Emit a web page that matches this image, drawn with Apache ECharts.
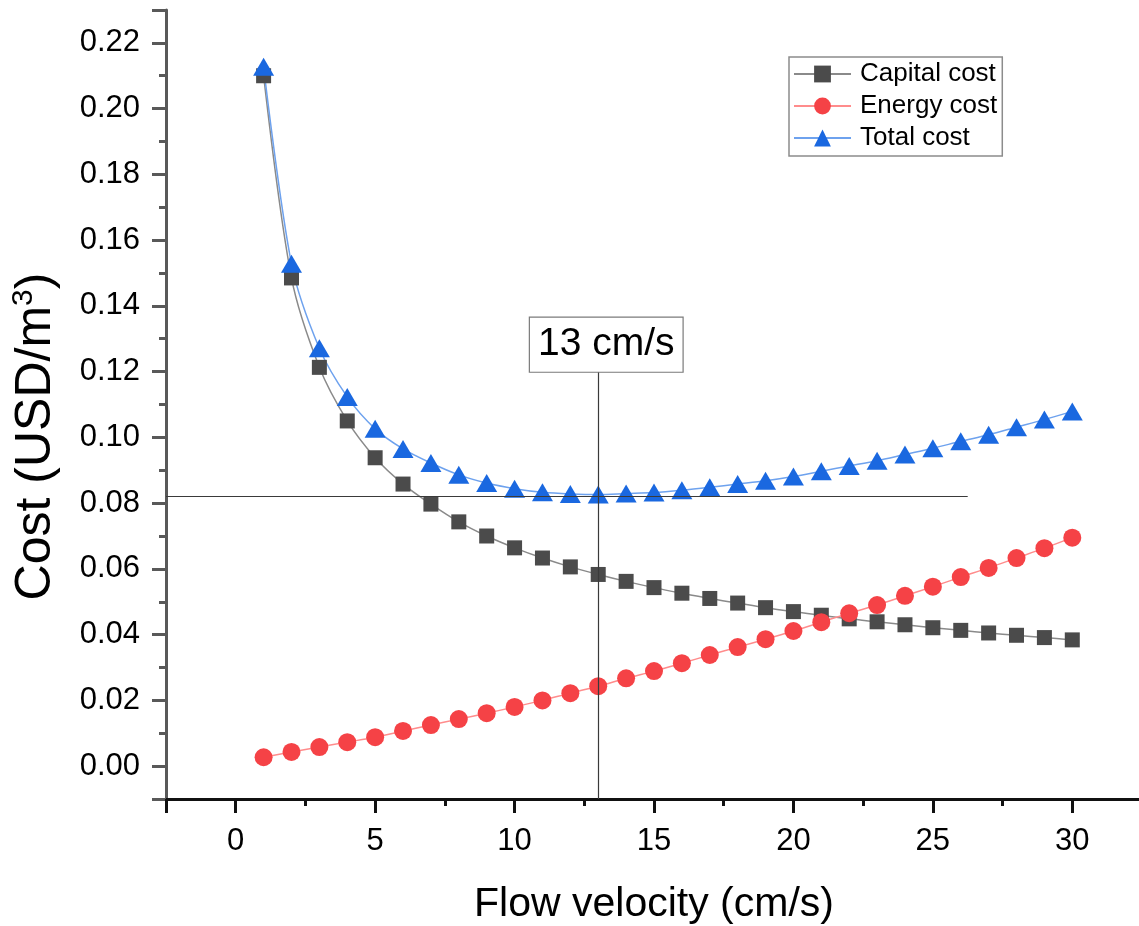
<!DOCTYPE html>
<html>
<head>
<meta charset="utf-8">
<script src="https://cdn.jsdelivr.net/npm/echarts@6/dist/echarts.min.js"></script>
<style>
  html, body { margin: 0; padding: 0; background: #fff; }
  #chart { width: 1139px; height: 926px; }
</style>
</head>
<body>
<div id="chart"></div>
<script>
    // flow velocity (cm/s)
    let velocity = [1, 2, 3, 4, 5, 6, 7, 8, 9, 10, 11, 12, 13, 14, 15,
        16, 17, 18, 19, 20, 21, 22, 23, 24, 25, 26, 27, 28, 29, 30];
    let capitalCost = [0.2100, 0.1485, 0.1213, 0.1050, 0.0938, 0.0858, 0.0797, 0.0743, 0.0700, 0.0664,
        0.0633, 0.0606, 0.0583, 0.0562, 0.0543, 0.0526, 0.0510, 0.0496, 0.0482, 0.0470,
        0.0459, 0.0448, 0.0439, 0.0430, 0.0421, 0.0413, 0.0405, 0.0398, 0.0391, 0.0384];
    let energyCost = [0.0027, 0.0043, 0.0058, 0.0073, 0.0088, 0.0107, 0.0125, 0.0143, 0.0161, 0.0180,
        0.0200, 0.0222, 0.0243, 0.0267, 0.0289, 0.0313, 0.0338, 0.0362, 0.0386, 0.0411,
        0.0438, 0.0465, 0.0490, 0.0518, 0.0546, 0.0575, 0.0603, 0.0633, 0.0663, 0.0695];
    let totalCost = [0.2127, 0.1528, 0.1271, 0.1123, 0.1026, 0.0965, 0.0922, 0.0886, 0.0861, 0.0844,
        0.0833, 0.0828, 0.0826, 0.0829, 0.0832, 0.0839, 0.0848, 0.0858, 0.0868, 0.0881,
        0.0897, 0.0913, 0.0929, 0.0948, 0.0967, 0.0988, 0.1008, 0.1031, 0.1054, 0.1079];
    let seriesNames = ['Capital cost', 'Energy cost', 'Total cost'];
    let optimumVelocity = 13;
    let optimumCost = 0.082;
    let hLineEnd = 26.25;
    let vLineTop = 0.12;

    let font = '"Liberation Sans", Arial, sans-serif';

    function pairs(ys) {
        return velocity.map(function (v, i) { return [v, ys[i]]; });
    }

    let chart = echarts.init(document.getElementById('chart'));

    let option = {
        animation: false,
        backgroundColor: '#fff',
        textStyle: {fontFamily: font},
        grid: {
            left: 166,
            top: 10,
            width: 976,
            bottom: 127,
            containLabel: false,
            outerBoundsMode: 'none'
        },
        legend: {
            left: 789,
            top: 57,
            orient: 'vertical',
            data: seriesNames,
            itemWidth: 57,
            itemHeight: 21,
            itemGap: 6,
            padding: [4, 5, 5, 4],
            borderColor: '#8c8c8c',
            borderWidth: 1.5,
            borderRadius: 0,
            textStyle: {fontSize: 26, color: '#000', fontFamily: font, padding: [0, 0, 0, 4]}
        },
        xAxis: {
            type: 'value',
            min: -2.5,
            max: 32.5,
            splitNumber: 7,
            minInterval: 5,
            maxInterval: 5,
            name: 'Flow velocity (cm/s)',
            nameLocation: 'middle',
            nameGap: 85,
            nameTextStyle: {fontSize: 41, color: '#000', fontFamily: font},
            axisLine: {onZero: false, lineStyle: {color: '#111', width: 3}},
            axisTick: {inside: false, length: 14, lineStyle: {color: '#111', width: 3}},
            minorTick: {show: true, splitNumber: 2, length: 7, lineStyle: {color: '#111', width: 3}},
            axisLabel: {
                fontSize: 31, color: '#000', margin: 27, fontFamily: font,
                showMinLabel: false, showMaxLabel: false
            },
            splitLine: {show: false}
        },
        yAxis: {
            type: 'value',
            min: -0.01,
            max: 0.23,
            splitNumber: 12,
            minInterval: 0.02,
            maxInterval: 0.02,
            name: '{t|Cost (USD/m}{s|3}{t|)}',
            nameLocation: 'middle',
            nameGap: 103,
            nameTextStyle: {
                fontFamily: font,
                padding: [0, 64, 0, 0],
                rich: {
                    t: {fontSize: 50, color: '#000', fontFamily: font},
                    s: {fontSize: 30, color: '#000', fontFamily: font, verticalAlign: 'top', padding: [0, 0, 24, 0]}
                }
            },
            axisLine: {onZero: false, lineStyle: {color: '#595959', width: 3}},
            axisTick: {inside: false, length: 14, lineStyle: {color: '#595959', width: 3}},
            minorTick: {show: true, splitNumber: 2, length: 7, lineStyle: {color: '#595959', width: 3}},
            axisLabel: {
                fontSize: 31, color: '#000', margin: 26, fontFamily: font,
                showMinLabel: false, showMaxLabel: false,
                formatter: function (v) { return v.toFixed(2); }
            },
            splitLine: {show: false}
        },
        series: [
            {
                name: seriesNames[0],
                type: 'line',
                data: pairs(capitalCost),
                smooth: 0.3,
                symbol: 'rect',
                symbolSize: 15,
                itemStyle: {color: '#4b4b4b'},
                lineStyle: {color: '#8a8a8a', width: 1.5},
                markLine: {
                    silent: true,
                    symbol: ['none', 'none'],
                    lineStyle: {color: '#3a3a3a', width: 1.2, type: 'solid'},
                    label: {show: false},
                    data: [
                        [{coord: [-2.5, optimumCost]}, {coord: [hLineEnd, optimumCost]}],
                        [
                            {coord: [optimumVelocity, -0.01]},
                            {
                                coord: [optimumVelocity, vLineTop],
                                label: {
                                    show: true,
                                    position: 'end',
                                    distance: 0,
                                    offset: [8, 0],
                                    formatter: optimumVelocity + ' cm/s',
                                    fontSize: 39,
                                    color: '#000',
                                    fontFamily: font,
                                    backgroundColor: '#fff',
                                    borderColor: '#7a7a7a',
                                    borderWidth: 1.2,
                                    padding: [7, 8, 8, 8]
                                }
                            }
                        ]
                    ]
                }
            },
            {
                name: seriesNames[1],
                type: 'line',
                data: pairs(energyCost),
                smooth: 0.3,
                symbol: 'circle',
                symbolSize: 18,
                itemStyle: {color: '#f54246'},
                lineStyle: {color: '#ff8c8c', width: 1.5}
            },
            {
                name: seriesNames[2],
                type: 'line',
                data: pairs(totalCost),
                smooth: 0.3,
                symbol: 'triangle',
                symbolSize: [21, 18],
                itemStyle: {color: '#1a68e0'},
                lineStyle: {color: '#6ea2ee', width: 1.5}
            }
        ]
    };

    chart.setOption(option, true);
    window.onresize = () => {
        chart.resize();
    };
</script>
</body>
</html>
